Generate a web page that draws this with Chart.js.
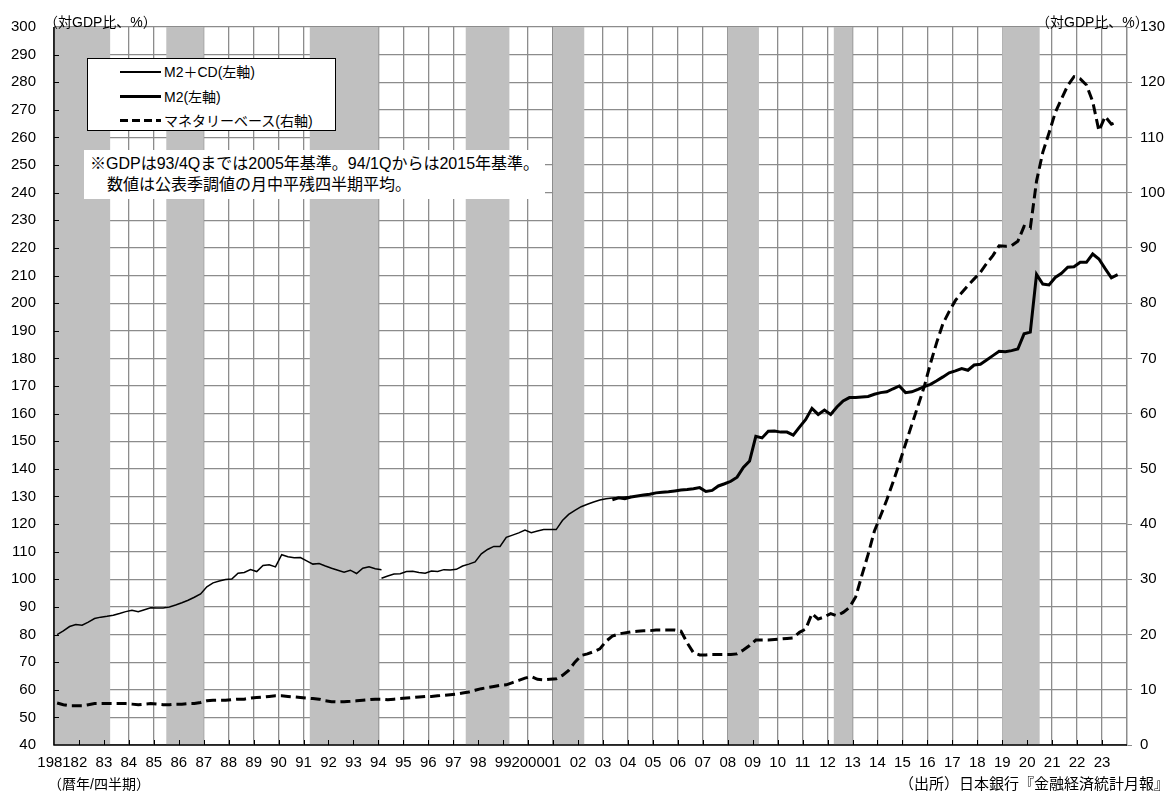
<!DOCTYPE html>
<html>
<head>
<meta charset="utf-8">
<script src="https://cdn.jsdelivr.net/npm/chart.js@4.4.0/dist/chart.umd.min.js"></script>
<style>
body { margin: 0; background: #fff; font-family: "Liberation Sans", "Noto Sans CJK JP", sans-serif; color: #000; }
#wrap { position: relative; width: 1172px; height: 796px; }
#c { position: absolute; left: 0; top: 0; }
.t { position: absolute; font-size: 14px; line-height: 18px; white-space: nowrap; }
#legend { position: absolute; left: 87px; top: 58px; width: 249px; height: 73px; background: #fff; border: 1px solid #000; box-sizing: border-box; }
.row { position: absolute; left: 32px; height: 18px; font-size: 14px; line-height: 18px; white-space: nowrap; }
.smp { position: absolute; left: 0; width: 41px; background: #000; }
.row span { position: absolute; left: 44px; top: 0; }
#note { position: absolute; left: 84px; top: 150px; background: #fff; padding: 3px 6px 4px 6px; font-size: 16px; line-height: 21px; white-space: nowrap; }
</style>
</head>
<body>
<div id="wrap">
  <canvas id="c" width="1172" height="796"></canvas>
  <div class="t" style="left:44px; top:13px;">（対GDP比、%）</div>
  <div class="t" style="left:1036px; top:13px;">（対GDP比、%）</div>
  <div class="t" style="left:48px; top:775px;">（暦年/四半期）</div>
  <div class="t" style="right:3px; top:775px; font-size:15px;">（出所）日本銀行『金融経済統計月報』</div>
  <div id="legend">
    <div class="row" style="top:4px;"><div class="smp" style="top:8px; height:1.5px;"></div><span>M2＋CD(左軸)</span></div>
    <div class="row" style="top:29px;"><div class="smp" style="top:7px; height:3px;"></div><span>M2(左軸)</span></div>
    <div class="row" style="top:53px;"><div class="smp" style="top:7px; height:3px; background:repeating-linear-gradient(90deg,#000 0 8px,transparent 8px 12px);"></div><span>マネタリーベース(右軸)</span></div>
  </div>
  <div id="note">
    <div>※GDPは93/4Qまでは2005年基準。94/1Qからは2015年基準。</div>
    <div style="padding-left:17px;">数値は公表季調値の月中平残四半期平均。</div>
  </div>
</div>
<script>
// quarters counted from 1981Q1 (index 0)
let yearLabels = ['1981','82','83','84','85','86','87','88','89','90','91','92','93','94','95','96','97','98','99',
  '2000','01','02','03','04','05','06','07','08','09','10','11','12','13','14','15','16','17','18','19','20','21','22','23'];

// shaded quarters [first, last]
let recessions = [[0, 8], [18, 23], [41, 51], [66, 72], [80, 84], [108, 112], [125, 127], [152, 157]];

// M2+CD, 1981Q1-1994Q1 (GDP 2005 base)
let m2cdOld = [80.0,81.3,82.9,83.6,83.4,84.5,85.8,86.3,86.6,87.0,
  87.6,88.3,88.8,88.3,89.0,89.7,89.6,89.6,90.0,90.7,
  91.5,92.4,93.5,94.7,97.3,98.7,99.4,99.9,100.1,102.2,
  102.5,103.5,102.8,105.0,105.3,104.5,108.9,108.2,107.8,107.9,
  106.7,105.5,105.7,104.8,104.0,103.3,102.6,103.3,102.1,104.0,
  104.5,103.8,103.5];
// M2+CD, 1994Q1-2004Q1 (GDP 2015 base)
let m2cdNewStart = 52;
let m2cdNew = [100.4,101.2,101.9,102.0,102.8,102.9,102.5,102.2,103.0,102.8,
  103.5,103.4,103.6,104.8,105.5,106.3,109.2,110.8,111.9,111.9,
  115.2,116.0,116.8,117.8,116.9,117.5,118.0,118.0,118.0,121.3,
  123.5,125.0,126.3,127.2,128.0,128.7,129.2,129.4,129.6,129.8,130.0];
// M2, 2003Q2-2023Q3
let m2Start = 89;
let m2 = [128.8,129.5,129.2,129.8,130.2,130.5,130.8,131.3,131.5,131.7,
  132.0,132.3,132.5,132.8,133.2,131.8,132.2,133.8,134.6,135.5,
  137.0,140.5,142.8,151.8,151.2,153.6,153.7,153.3,153.3,152.2,
  155.1,157.9,161.9,159.7,161.3,159.7,162.4,164.6,165.8,165.8,
  166.0,166.2,167.0,167.6,167.9,169.0,170.0,167.6,167.9,168.8,
  169.8,170.6,171.9,173.3,174.8,175.5,176.3,175.7,177.6,177.9,
  179.4,181.0,182.6,182.4,182.8,183.4,188.9,189.5,210.4,206.9,
  206.6,209.3,210.8,213.0,213.2,214.8,214.8,217.8,216.0,212.5,
  209.2,210.3];
// monetary base, 1981Q1-2023Q3 (right axis)
let monetaryBase = [7.6,7.3,7.1,7.1,7.1,7.3,7.5,7.5,7.5,7.5,
  7.5,7.5,7.4,7.3,7.4,7.5,7.4,7.3,7.3,7.4,
  7.4,7.5,7.5,7.7,8.0,8.1,8.1,8.1,8.2,8.3,
  8.3,8.5,8.6,8.7,8.8,8.9,8.9,8.8,8.7,8.6,
  8.5,8.4,8.3,8.0,7.85,7.8,7.85,7.9,8.0,8.1,
  8.2,8.3,8.3,8.2,8.3,8.4,8.5,8.6,8.7,8.8,
  8.8,8.9,9.0,9.1,9.2,9.4,9.6,9.9,10.2,10.4,
  10.6,10.8,10.9,11.3,11.7,12.1,12.4,11.9,11.8,11.9,
  12.0,12.6,13.5,15.0,16.2,16.5,16.9,17.4,18.8,19.7,
  20.1,20.3,20.5,20.6,20.7,20.7,20.8,20.8,20.8,20.8,
  20.6,18.5,16.7,16.3,16.3,16.4,16.4,16.4,16.4,16.5,
  17.2,18.0,19.0,19.0,19.0,19.1,19.2,19.3,19.4,20.4,
  21.0,23.8,22.8,23.2,23.8,23.4,24.0,24.9,26.8,30.7,
  34.5,38.7,41.5,44.4,47.6,51.0,54.5,58.0,61.4,64.9,
  69.1,72.9,76.3,78.5,80.5,81.9,83.2,84.4,85.6,87.2,
  88.6,90.4,90.3,90.4,91.2,93.9,93.6,102.1,107.3,110.8,
  114.5,117.0,119.4,121.0,120.6,119.5,116.5,111.2,113.8,112.4,
  112.9];

let gridColor = '#8c8c8c';

function points(values, start) {
    // each quarter sits in the middle of its slot
    return values.map((v, k) => ({ x: start + k + 0.5, y: v }));
}

let shading = {
    id: 'shading',
    beforeDatasetsDraw(chart) {
        let ctx = chart.ctx;
        let area = chart.chartArea;
        let xs = chart.scales.x;
        let ys = chart.scales.y;
        ctx.save();
        ctx.fillStyle = '#c0c0c0';
        for (let r of recessions) {
            let x1 = xs.getPixelForValue(r[0]);
            let x2 = xs.getPixelForValue(r[1] + 1);
            ctx.fillRect(x1, area.top, x2 - x1, area.bottom - area.top);
        }
        // small inside tick marks and the axis lines on top of the shading
        ctx.strokeStyle = '#000';
        ctx.lineWidth = 1;
        ctx.beginPath();
        for (let q = 4; q < 172; q += 4) {
            let x = Math.round(xs.getPixelForValue(q)) + 0.5;
            ctx.moveTo(x, area.bottom);
            ctx.lineTo(x, area.bottom - 5);
        }
        for (let v = 50; v < 300; v += 10) {
            let y = Math.round(ys.getPixelForValue(v)) + 0.5;
            ctx.moveTo(area.left, y);
            ctx.lineTo(area.left + 5, y);
        }
        ctx.stroke();
        ctx.lineWidth = 1.5;
        ctx.beginPath();
        ctx.moveTo(area.left, area.top);
        ctx.lineTo(area.left, area.bottom);
        ctx.lineTo(area.right, area.bottom);
        ctx.stroke();
        ctx.restore();
    }
};

Chart.defaults.font.family = '"Liberation Sans", "Noto Sans CJK JP", sans-serif';
Chart.defaults.font.size = 15;
Chart.defaults.color = '#000';

let myChart = new Chart(document.getElementById('c'), {
    type: 'line',
    data: {
        datasets: [
            {
                label: 'マネタリーベース(右軸)',
                data: points(monetaryBase, 0),
                yAxisID: 'y2',
                borderColor: '#000',
                borderWidth: 3,
                borderDash: [10, 5],
                pointRadius: 0
            },
            {
                label: 'M2＋CD(左軸)',
                data: points(m2cdOld, 0),
                yAxisID: 'y',
                borderColor: '#000',
                borderWidth: 1.5,
                pointRadius: 0
            },
            {
                label: 'M2＋CD(左軸)',
                data: points(m2cdNew, m2cdNewStart),
                yAxisID: 'y',
                borderColor: '#000',
                borderWidth: 1.5,
                pointRadius: 0
            },
            {
                label: 'M2(左軸)',
                data: points(m2, m2Start),
                yAxisID: 'y',
                borderColor: '#000',
                borderWidth: 3,
                pointRadius: 0
            }
        ]
    },
    options: {
        responsive: false,
        animation: false,
        devicePixelRatio: 1,
        layout: { padding: { top: 23, left: 0, right: 0, bottom: 0 } },
        plugins: { legend: { display: false }, tooltip: { enabled: false } },
        elements: { line: { tension: 0 } },
        scales: {
            x: {
                type: 'linear',
                min: 0,
                max: 172,
                afterFit(s) { s.height = 51; },
                grid: { color: gridColor, lineWidth: 1.3, drawTicks: false },
                border: { display: false },
                ticks: {
                    stepSize: 4,
                    autoSkip: false,
                    maxTicksLimit: 100,
                    maxRotation: 0,
                    minRotation: 0,
                    padding: 9,
                    callback: (v) => yearLabels[v / 4] || ''
                }
            },
            y: {
                position: 'left',
                min: 40,
                max: 300,
                afterFit(s) { s.width = 54; },
                grid: { color: gridColor, lineWidth: 1.3, drawTicks: false },
                border: { display: false },
                ticks: { stepSize: 10, padding: 18 }
            },
            y2: {
                position: 'right',
                min: 0,
                max: 130,
                afterFit(s) { s.width = 45; },
                grid: { drawOnChartArea: false, drawTicks: true, tickLength: 5, tickColor: gridColor },
                border: { color: gridColor, width: 1.3 },
                ticks: { stepSize: 10, padding: 8 }
            }
        }
    },
    plugins: [shading]
});
</script>
</body>
</html>
